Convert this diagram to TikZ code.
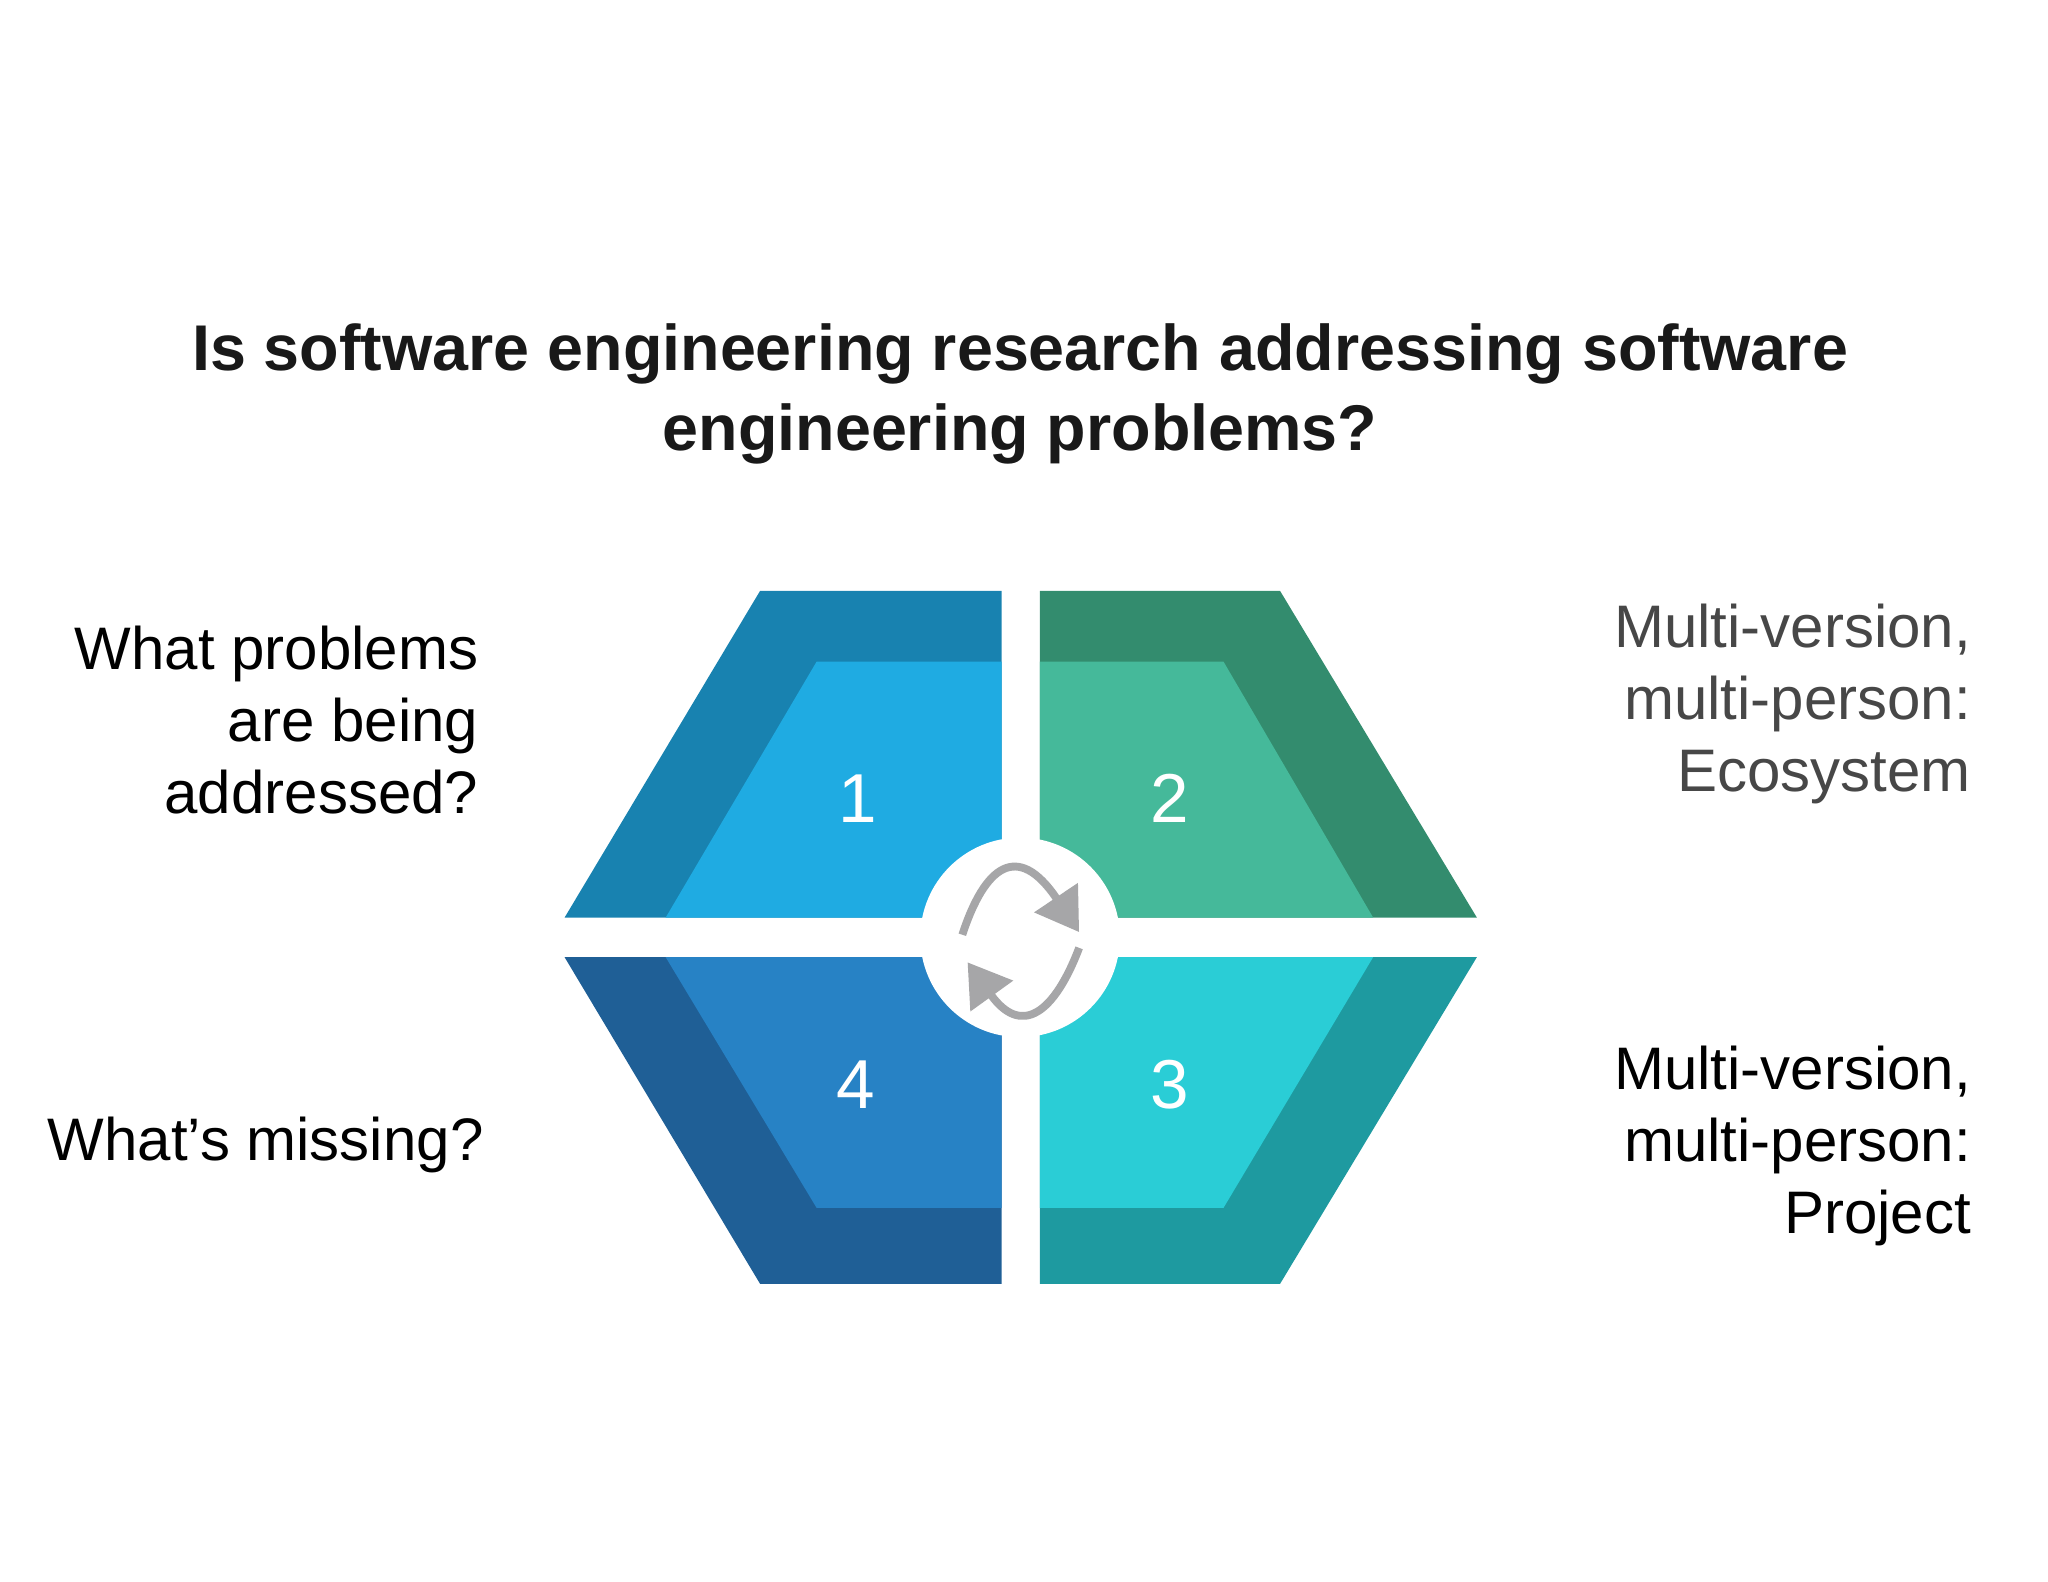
\documentclass[tikz,border=0pt]{standalone}
\usepackage{fontspec}
\setmainfont{Liberation Sans}
\usetikzlibrary{arrows.meta}
\definecolor{o1}{HTML}{1882B0}\definecolor{i1}{HTML}{1FABE2}
\definecolor{o2}{HTML}{338C6E}\definecolor{i2}{HTML}{45B99A}
\definecolor{o3}{HTML}{1E9AA0}\definecolor{i3}{HTML}{2ACDD6}
\definecolor{o4}{HTML}{1F5F96}\definecolor{i4}{HTML}{2782C5}
\definecolor{arr}{HTML}{A6A6A8}
\begin{document}
\begin{tikzpicture}[x=0.01cm,y=-0.01cm,
 lab/.style={font=\fontsize{13pt}{15.6pt}\selectfont,align=right,anchor=north east,inner sep=0},
 num/.style={text=white,font=\fontsize{15pt}{18pt}\selectfont},
 cyc/.style={draw=arr,line width=1.7pt,-{Triangle[length=9pt,width=11pt]}}]
\useasboundingbox (0,0) rectangle (1560,1205);
\node[font=\bfseries\fontsize{14pt}{17.4pt}\selectfont,align=center,text=black!90] (title) at (777,300) {Is software engineering research addressing software\\engineering problems?};
\fill[o1] (579,450)--(763,450)--(763,699)--(430,699)--cycle;
\fill[i1] (622,504)--(763,504)--(763,699)--(507,699)--cycle;
\fill[o2] (792,450)--(975,450)--(1125,699)--(792,699)--cycle;
\fill[i2] (792,504)--(932,504)--(1046,699)--(792,699)--cycle;
\fill[o3] (792,729)--(1125,729)--(975,978)--(792,978)--cycle;
\fill[i3] (792,729)--(1046,729)--(932,920)--(792,920)--cycle;
\fill[o4] (430,729)--(763,729)--(763,978)--(579,978)--cycle;
\fill[i4] (507,729)--(763,729)--(763,920)--(622,920)--cycle;
\node[num] (n1) at (653,608) {1};
\node[num] (n2) at (891,608) {2};
\node[num] (n3) at (891,826) {3};
\node[num] (n4) at (652,826) {4};
\fill[white] (777,714) circle (76);
\draw[cyc] (733,712) .. controls (750,660) and (775,640) .. (822,710);
\draw[cyc] (822,722) .. controls (803,772) and (778,790) .. (737,733);
\node[lab] (l1) at (365,476) {What problems\\are being\\addressed?};
\node[lab] (l4) at (369,850) {What’s missing?};
\node[lab,text=black!72] (l2) at (1502,459) {Multi-version,\\multi-person:\\Ecosystem};
\node[lab] (l3) at (1502,796) {Multi-version,\\multi-person:\\Project};
\end{tikzpicture}
\end{document}
